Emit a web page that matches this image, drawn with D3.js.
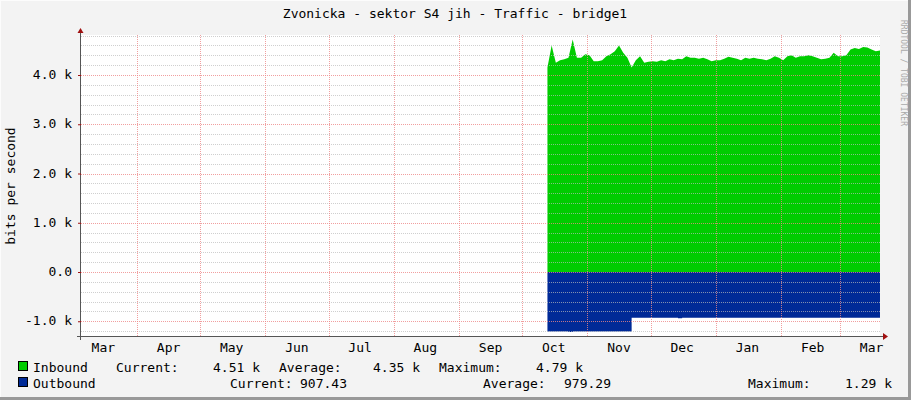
<!DOCTYPE html>
<html><head><meta charset="utf-8">
<script src="https://cdn.jsdelivr.net/npm/d3@7"></script>
<style>body{margin:0;background:#f3f3f3}svg{display:block}text{font-family:"DejaVu Sans Mono",monospace;font-size:13px;fill:#000}</style>
</head><body><svg id="c" width="911" height="400"></svg>
<script>
const title = "Zvonicka - sektor S4 jih - Traffic - bridge1";
const yLabel = "bits per second";
const monthLabels = ["Mar","Apr","May","Jun","Jul","Aug","Sep","Oct","Nov","Dec","Jan","Feb","Mar"];
const yTicks = [-1000,0,1000,2000,3000,4000];
const yTickLabels = ["-1.0 k","0.0","1.0 k","2.0 k","3.0 k","4.0 k"];
const dataStart = "2012-10-13";
const stepDays = 2;
const inbound = [4.15,4.6,4.25,4.3,4.32,4.35,4.72,4.35,4.35,4.42,4.4,4.28,4.28,4.3,4.38,4.42,4.48,4.6,4.45,4.35,
4.15,4.3,4.38,4.25,4.27,4.28,4.27,4.3,4.28,4.32,4.3,4.33,4.32,4.38,4.35,4.35,4.33,4.35,4.32,4.28,
4.3,4.3,4.33,4.37,4.35,4.33,4.3,4.35,4.33,4.35,4.33,4.32,4.3,4.33,4.38,4.35,4.3,4.38,4.4,4.35,
4.38,4.38,4.4,4.38,4.35,4.32,4.33,4.35,4.45,4.38,4.38,4.4,4.52,4.55,4.53,4.57,4.56,4.52,4.48,4.5];
const outbound = [1.21,1.21,1.21,1.21,1.21,1.22,1.21,1.21,1.21,1.21,1.21,1.21,1.21,1.21,1.21,1.21,1.21,1.21,1.21,1.21,
0.93,0.93,0.93,0.93,0.93,0.93,0.93,0.93,0.93,0.93,0.93,0.94,0.93,0.93,0.93,0.93,0.93,0.93,0.93,0.93,
0.93,0.93,0.93,0.93,0.93,0.93,0.93,0.93,0.93,0.93,0.93,0.93,0.93,0.93,0.93,0.93,0.93,0.93,0.93,0.93,
0.93,0.93,0.93,0.93,0.93,0.93,0.93,0.93,0.93,0.93,0.93,0.93,0.93,0.93,0.93,0.93,0.93,0.93,0.93,0.93];
const legendIn = ["Inbound","Current:","4.51 k","Average:","4.35 k","Maximum:","4.79 k"];
const legendOut = ["Outbound","Current:","907.43","Average:","979.29","Maximum:","1.29 k"];

const svg = d3.select("#c");
const L=81,R=880,T=35,B=336;
const x = d3.scaleTime().domain([new Date(2012,3,1), new Date(2013,2,1)]).range([137,840]);
const y = d3.scaleLinear().domain([0,4000]).range([272,75]);
const t0 = d3.timeParse("%Y-%m-%d")(dataStart);
const pts = inbound.map((v,i)=>({d:d3.timeDay.offset(t0,i*stepDays), i:v*1000, o:-outbound[i]*1000}));

svg.append("rect").attr("x",L).attr("y",T).attr("width",R-L).attr("height",B-T).attr("fill","#fff");
svg.append("line").attr("x1",0).attr("x2",911).attr("y1",0.5).attr("y2",0.5).attr("stroke","#fcfcfc");
svg.append("line").attr("x1",0.5).attr("x2",0.5).attr("y1",0).attr("y2",400).attr("stroke","#fcfcfc");
svg.append("line").attr("x1",0).attr("x2",911).attr("y1",398.5).attr("y2",398.5).attr("stroke","#999").attr("stroke-width",3);
svg.append("line").attr("x1",909.5).attr("x2",909.5).attr("y1",0).attr("y2",400).attr("stroke","#999").attr("stroke-width",3);

svg.append("path").datum(pts).attr("fill","#00cc00")
 .attr("d",d3.area().x(d=>x(d.d)).y0(y(0)).y1(d=>y(d.i)));
svg.append("path").datum(pts).attr("fill","#002a97")
 .attr("d",d3.area().x(d=>x(d.d)).y0(y(0)).y1(d=>y(d.o)).curve(d3.curveStepAfter));

const minor = d3.range(-1200,4801,200);
minor.forEach(v=>{ if(y(v)>=T&&y(v)<=B) svg.append("line").attr("x1",L).attr("x2",R).attr("y1",Math.round(y(v))+0.5).attr("y2",Math.round(y(v))+0.5)
  .attr("stroke", v%1000===0?"#e88":"#bbb").attr("stroke-dasharray","1,1").attr("opacity",v%1000===0?0.8:0.7);});
const months = d3.timeMonth.range(new Date(2012,3,1), new Date(2013,2,2));
months.forEach(m=>svg.append("line").attr("x1",Math.round(x(m))+0.5).attr("x2",Math.round(x(m))+0.5).attr("y1",T).attr("y2",B)
 .attr("stroke","#e88").attr("stroke-dasharray","1,1").attr("opacity",0.8));

svg.append("line").attr("x1",L-0.5).attr("x2",L-0.5).attr("y1",T-3).attr("y2",B+4).attr("stroke","#555");
svg.append("line").attr("x1",L-4).attr("x2",R+3).attr("y1",B+0.5).attr("y2",B+0.5).attr("stroke","#555");
svg.append("path").attr("d",`M${L-3.5},${T-2}L${L+2.5},${T-2}L${L-0.5},${T-7}Z`).attr("fill","#a01010");
svg.append("path").attr("d",`M${R+3},${B-3}L${R+3},${B+4}L${R+8},${B+0.5}Z`).attr("fill","#a01010");
yTicks.forEach((v,k)=>{
 svg.append("line").attr("x1",L-3).attr("x2",L).attr("y1",y(v)+0.5).attr("y2",y(v)+0.5).attr("stroke","#a01010");
 svg.append("text").attr("x",L-9).attr("y",y(v)+4).attr("text-anchor","end").text(yTickLabels[k]);
});
const labelDates = d3.range(13).map(k=>new Date(2012,2+k,16));
labelDates.forEach((d,k)=>svg.append("text").attr("x",x(d)).attr("y",352).attr("text-anchor","middle").text(monthLabels[k]));

svg.append("text").attr("x",455).attr("y",18).attr("text-anchor","middle").text(title);
svg.append("text").attr("transform","translate(15,186) rotate(-90)").attr("text-anchor","middle").text(yLabel);
svg.append("text").attr("transform","translate(901,20) rotate(90)").style("font-size","8px").style("fill","#aaa").text("RRDTOOL / TOBI OETIKER");

function legend(yy,color,items,xs){
 svg.append("rect").attr("x",18.5).attr("y",yy-10.5).attr("width",9).attr("height",9).attr("fill",color).attr("stroke","#000");
 items.forEach((s,k)=>svg.append("text").attr("x",xs[k][0]).attr("y",yy).attr("text-anchor",xs[k][1]).text(s));
}
legend(372,"#00cc00",legendIn,[[33,"start"],[116,"start"],[260,"end"],[279,"start"],[420,"end"],[439,"start"],[583,"end"]]);
legend(388,"#002a97",legendOut,[[33,"start"],[230,"start"],[347,"end"],[483,"start"],[611,"end"],[748,"start"],[892,"end"]]);
</script></body></html>
